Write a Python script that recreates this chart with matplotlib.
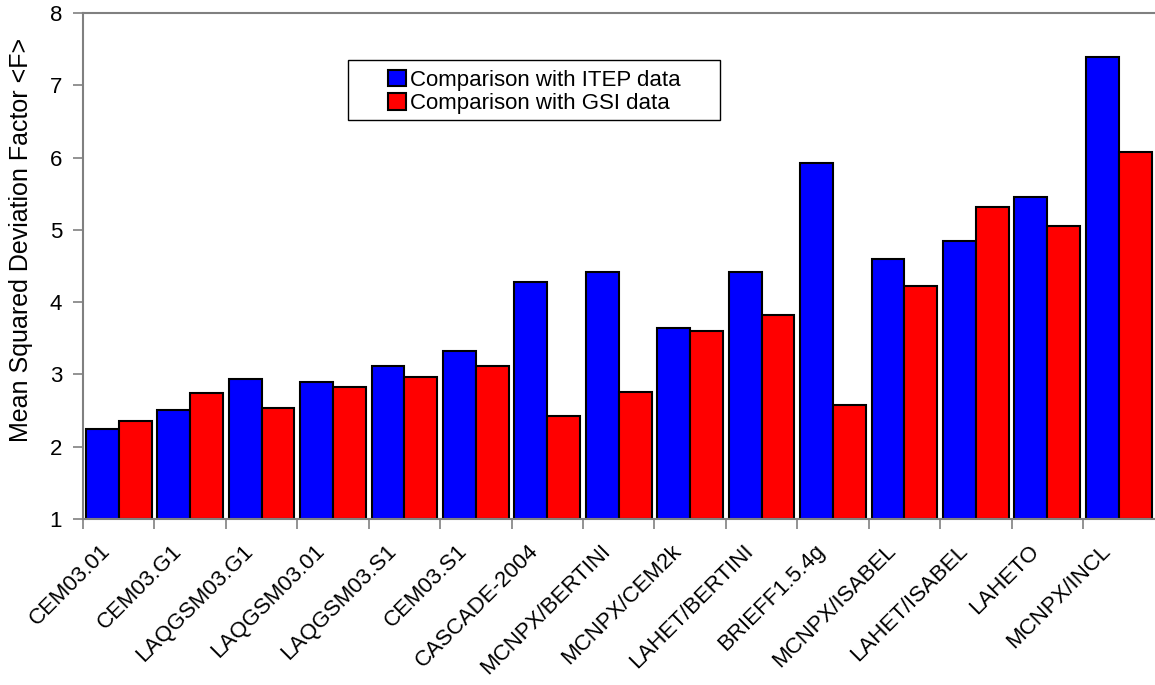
#!/usr/bin/env python3

import numpy as np
import matplotlib.pyplot as plt
from matplotlib.patches import Rectangle
from matplotlib.transforms import ScaledTranslation

plt.rcParams['font.family'] = ['Liberation Sans', 'DejaVu Sans']

codes = ['CEM03.01', 'CEM03.G1', 'LAQGSM03.G1', 'LAQGSM03.01', 'LAQGSM03.S1',
         'CEM03.S1', 'CASCADE-2004', 'MCNPX/BERTINI', 'MCNPX/CEM2k',
         'LAHET/BERTINI', 'BRIEFF1.5.4g', 'MCNPX/ISABEL', 'LAHET/ISABEL',
         'LAHETO', 'MCNPX/INCL']

itep = [2.25, 2.51, 2.94, 2.90, 3.11, 3.33, 4.28, 4.42, 3.64,
        4.42, 5.92, 4.60, 4.85, 5.46, 7.39]
gsi = [2.36, 2.74, 2.54, 2.82, 2.97, 3.11, 2.42, 2.76, 3.60,
       3.82, 2.58, 4.22, 5.32, 5.06, 6.08]

W, H = 1155, 685
x = np.arange(len(codes))
w = 0.46

figure = plt.figure(figsize=(W / 100, H / 100), dpi=100)
ax = figure.add_axes([83 / W, 1 - 519 / H, 1 - 83 / W - 0.0005, (519 - 13) / H])

ax.bar(x - w / 2, np.array(itep) - 1, w, bottom=1, color='#0000ff',
       edgecolor='black', linewidth=1.5, label='Comparison with ITEP data')
ax.bar(x + w / 2, np.array(gsi) - 1, w, bottom=1, color='#ff0000',
       edgecolor='black', linewidth=1.5, label='Comparison with GSI data')

ax.set_xlim(-0.5, len(codes) - 0.5)
ax.set_ylim(1, 8)
ax.set_yticks(range(1, 9))
ax.tick_params(axis='y', labelsize=16, length=7, color='#808080', width=1.2, pad=8)

ax.set_xticks(x - 0.5, minor=False)
ax.set_xticklabels([])
ax.set_xticks(x, minor=True)
ax.set_xticklabels(codes, minor=True, rotation=45, ha='right',
                   rotation_mode='anchor', fontsize=16)
ax.tick_params(axis='x', which='major', length=7, color='#808080', width=1.2)
ax.tick_params(axis='x', which='minor', length=0, pad=15.5)
for label in ax.get_xticklabels(minor=True):
   label.set_transform(label.get_transform() +
                       ScaledTranslation(-0.19, 0, figure.dpi_scale_trans))

for side in ('left', 'bottom', 'top'):
   ax.spines[side].set_color('#808080')
   ax.spines[side].set_linewidth(1.5)
ax.spines['right'].set_visible(False)

ax.set_ylabel('Mean Squared Deviation Factor <F>', fontsize=18)
ax.yaxis.set_label_coords(-0.047, 0.551)

# legend box is wider than its content, draw it separately
ax.add_patch(Rectangle((348 / W, 1 - 120 / H), (720 - 348) / W, 60 / H,
                       transform=figure.transFigure, facecolor='white',
                       edgecolor='black', linewidth=1.0, zorder=4,
                       clip_on=False))
legend = ax.legend(loc='upper left', bbox_to_anchor=(388 / W, 1 - 70 / H),
                   bbox_transform=figure.transFigure, borderaxespad=0,
                   frameon=False, fontsize=16, handlelength=0.8,
                   handleheight=0.75, handletextpad=0.2, labelspacing=0.1,
                   borderpad=0)
legend.set_zorder(5)

figure.savefig('out.png')
